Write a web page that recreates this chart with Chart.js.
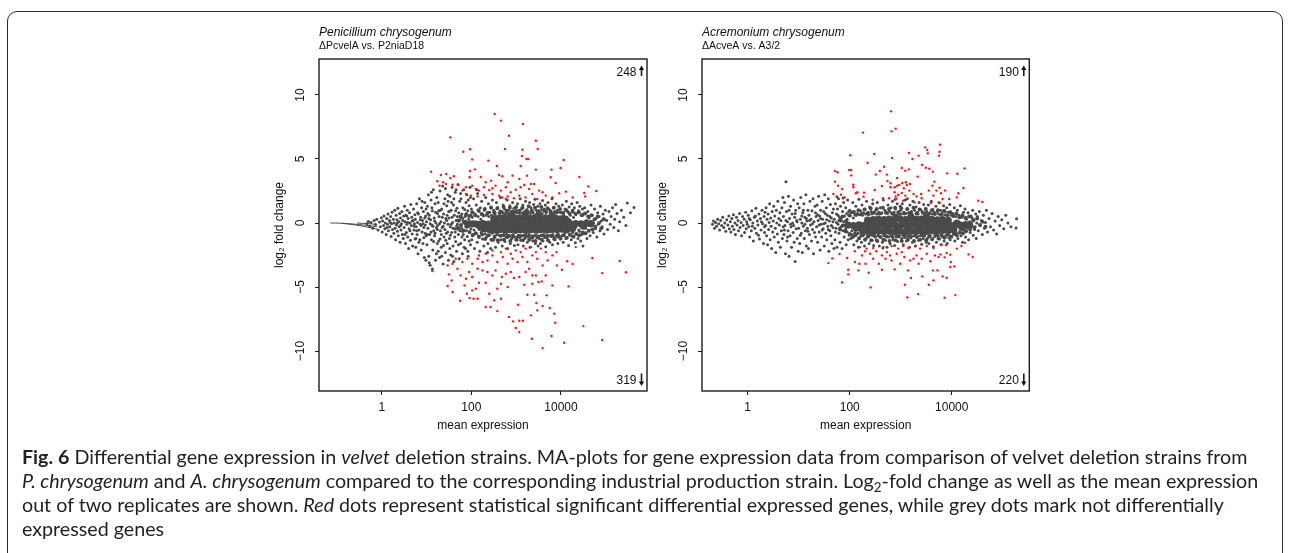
<!DOCTYPE html>
<html>
<head>
<meta charset="utf-8">
<script src="https://cdn.jsdelivr.net/npm/chart.js@4.4.1/dist/chart.umd.min.js"></script>
<style>
  html, body { margin: 0; padding: 0; background: #fff; }
  body { width: 1290px; height: 553px; position: relative; overflow: hidden; }
  #frame { position: absolute; left: 7px; top: 11px; width: 1274px; height: 620px;
           border: 1.5px solid #2b2b2b; border-radius: 10px; }
  canvas { position: absolute; top: 0; }
  #penCanvas { left: 260px; }
  #acrCanvas { left: 643px; }
  #caption { position: absolute; left: 22px; top: 445px; font-family: Lato, "Open Sans", sans-serif;
             font-size: 17px; line-height: 24px; color: #231f20; white-space: nowrap; }
  #caption sub { font-size: 0.68em; line-height: 0; vertical-align: -0.3em; }
</style>
</head>
<body>
<div id="frame"></div>
<canvas id="penCanvas" width="400" height="450"></canvas>
<canvas id="acrCanvas" width="400" height="450"></canvas>
<div id="caption">
<span id="capLine1"><b>Fig. 6</b> Differential gene expression in <i>velvet</i> deletion strains. MA-plots for gene expression data from comparison of velvet deletion strains from</span><br>
<span><i>P. chrysogenum</i> and <i>A. chrysogenum</i> compared to the corresponding industrial production strain. Log<sub>2</sub>-fold change as well as the mean expression</span><br>
<span>out of two replicates are shown. <i>Red</i> dots represent statistical significant differential expressed genes, while grey dots mark not differentially</span><br>
<span>expressed genes</span>
</div>
<script>
// points are [log10 mean expression, log2 fold change]
const xTicks = [1, 100, 10000];
const yTicks = [-10, -5, 0, 5, 10];
const penCounts = [248, 319];
const acrCounts = [190, 220];

// ---- Penicillium chrysogenum ----
const penUp = [[2.52,8.52],[2.66,8.0],[3.15,7.73],[1.53,6.69],[2.84,6.82],[3.44,6.43],[1.82,5.57],[1.97,5.76],[2.75,5.78],[3.14,5.73],[3.48,5.78],[2.02,4.97],[2.38,4.87],[3.13,5.23],[3.23,5.0],[3.27,5.0],[4.06,4.92],[2.57,4.45],[3.1,4.45],[3.44,4.17],[3.79,4.17],[3.99,4.3],[1.1,4.01],[1.97,4.06],[2.08,4.19],[1.44,3.83],[1.32,3.75],[1.61,3.65],[1.53,3.52],[1.24,3.26],[1.37,3.18],[1.43,3.05],[1.58,2.99],[1.71,2.97],[1.29,2.92],[1.96,3.57],[2.21,3.59],[2.32,3.18],[2.44,3.31],[2.62,3.75],[2.69,3.65],[2.81,3.18],[2.92,3.7],[3.07,3.44],[3.24,3.7],[3.33,3.05],[3.77,3.57],[3.88,3.13],[4.41,3.59],[4.61,2.86],[4.79,2.5],[1.88,2.79],[2.02,2.92],[2.1,2.66],[2.17,2.53],[2.28,2.79],[2.4,2.58],[2.47,2.71],[2.54,2.92],[2.66,2.53],[2.77,2.79],[2.88,2.4],[2.99,2.6],[3.1,2.79],[3.18,2.97],[3.29,2.66],[3.4,3.05],[3.51,2.53],[3.59,2.4],[3.66,2.14],[3.96,2.32],[4.11,2.45],[4.26,2.0],[4.52,2.34],[4.54,2.08],[1.88,2.27],[1.99,2.14],[2.14,2.08],[2.28,2.19],[2.62,2.14],[2.69,2.0],[2.81,2.08],[2.95,1.93],[3.07,2.14],[3.21,2.0],[3.36,2.27],[3.47,1.88],[3.81,2.0],[1.8,2.53],[2.47,2.27],[2.77,1.88]];
const penDown = [[1.13,-3.75],[1.47,-3.31],[1.58,-3.18],[1.5,-4.01],[1.56,-4.48],[1.47,-4.92],[1.58,-5.39],[1.75,-6.07],[1.85,-4.87],[1.9,-5.52],[1.96,-5.86],[2.02,-5.26],[2.05,-5.91],[2.14,-5.91],[2.1,-5.13],[2.17,-4.66],[2.32,-4.66],[2.32,-6.56],[2.43,-6.56],[2.51,-6.04],[2.58,-6.88],[2.66,-5.91],[2.58,-5.13],[2.4,-5.52],[2.66,-4.74],[2.81,-5.0],[2.84,-7.34],[2.93,-7.68],[2.99,-8.2],[3.07,-8.52],[3.07,-7.63],[3.15,-7.63],[3.04,-6.38],[3.18,-4.82],[3.36,-4.74],[3.25,-5.6],[3.4,-5.6],[3.45,-6.25],[3.47,-6.82],[3.33,-7.21],[3.59,-6.48],[3.68,-5.65],[3.75,-6.64],[3.85,-7.08],[3.87,-7.79],[3.79,-8.83],[3.35,-9.04],[3.59,-9.77],[4.07,-9.35],[4.5,-8.05],[4.92,-9.14],[4.92,-3.91],[5.31,-2.97],[5.45,-3.85],[4.7,-2.73],[4.17,-4.95],[4.26,-3.2],[4.14,-2.99],[4.02,-3.65],[3.91,-3.31],[3.81,-4.87],[3.66,-4.09],[3.57,-4.56],[3.5,-4.61],[3.44,-4.09],[3.36,-4.09],[3.29,-3.57],[3.21,-3.83],[3.07,-4.22],[2.95,-4.3],[2.88,-3.83],[2.77,-3.96],[2.68,-4.22],[2.54,-3.7],[2.47,-4.09],[2.36,-3.83],[2.25,-3.7],[2.14,-3.57],[2.02,-4.22],[1.95,-3.83],[1.88,-4.35],[1.76,-4.09],[1.69,-3.57],[1.65,-2.79],[1.8,-3.05],[1.91,-2.79],[2.02,-3.18],[2.14,-2.79],[2.25,-3.05],[2.36,-2.92],[2.47,-2.53],[2.58,-3.05],[2.7,-2.66],[2.81,-3.18],[2.92,-2.79],[3.03,-3.05],[3.14,-2.66],[3.25,-3.05],[3.36,-2.53],[3.47,-2.79],[3.59,-3.31],[3.7,-2.92],[3.81,-2.53],[2.47,-2.14],[2.66,-2.27],[2.77,-2.0],[2.88,-2.4],[2.99,-2.14],[3.1,-2.27],[3.21,-2.0],[3.33,-1.88],[3.44,-2.27],[3.55,-2.0],[3.66,-2.27],[3.9,-2.27],[4.33,-1.88],[2.32,-2.4],[2.17,-2.53]];
const penGrey = [[-0.33,-0.05],[-0.3,0.12],[-0.27,-0.25],[-0.24,0.05],[-0.2,-0.4],[-0.17,0.2],[-0.14,-0.12],[-0.11,0.3],[-0.08,-0.55],[-0.05,0.08],[-0.03,-0.3],[-0.01,0.42],
[0.01,-0.7],[0.02,0.15],[0.04,-0.2],[0.05,0.55],[0.07,-0.45],[0.08,0.0],[0.1,-0.9],[0.11,0.35],[0.13,-0.1],[0.14,0.7],[0.15,-0.6],[0.17,0.2],[0.18,-0.3],[0.2,0.5],[0.21,-1.05],[0.22,-0.05],[0.23,0.85],[0.24,-0.5],[0.19,0.05],[0.12,-0.35],
[0.26,0.3],[0.27,-0.8],[0.28,0.0],[0.29,1.0],[0.3,-0.4],[0.31,-1.3],[0.32,0.6],[0.33,-0.15],[0.34,0.25],[0.35,-0.65],[0.36,1.15],[0.37,-1.0],[0.38,0.1],[0.39,-0.3],[0.4,0.75],[0.41,-1.5],[0.42,0.4],[0.43,-0.55],[0.44,-0.05],[0.45,0.9],[0.46,-0.9],[0.47,0.2],[0.48,-1.2],[0.49,0.55],[0.35,0.0],[0.42,-0.2],
[0.5,-0.35],[0.51,1.3],[0.52,0.1],[0.53,-1.6],[0.54,0.6],[0.55,-0.75],[0.56,-0.1],[0.57,1.0],[0.58,-1.1],[0.59,0.35],[0.6,-2.0],[0.61,-0.45],[0.62,0.8],[0.63,0.0],[0.64,-1.35],[0.65,1.45],[0.66,-0.2],[0.67,0.45],[0.68,-0.85],[0.69,-1.8],[0.7,0.2],[0.71,1.1],[0.72,-0.55],[0.73,-0.05],[0.74,0.65],[0.745,-1.25],[0.52,-0.9],[0.58,0.05],[0.63,-0.6],[0.68,0.15],[0.72,-0.25],[0.56,0.55],
[0.75,0.3],[0.76,-1.9],[0.77,-0.3],[0.78,1.5],[0.79,-0.9],[0.8,0.05],[0.81,-2.4],[0.82,0.7],[0.83,-0.55],[0.84,1.9],[0.85,-1.3],[0.86,-0.1],[0.87,0.45],[0.88,-2.1],[0.89,1.2],[0.9,-0.7],[0.91,0.2],[0.92,-1.6],[0.93,0.9],[0.94,-0.35],[0.95,-2.7],[0.96,1.6],[0.97,-0.15],[0.98,0.55],[0.99,-1.0],[0.985,-2.9],[0.78,-0.6],[0.8,0.8],[0.83,-1.5],[0.86,0.25],[0.88,-0.2],[0.9,1.7],[0.92,-0.05],[0.94,-1.15],[0.96,0.4],[0.97,-0.8],[0.99,1.1],[0.76,-1.2],
[1.0,0.1],[1.01,-1.7],[1.02,1.3],[1.03,-0.4],[1.04,2.2],[1.05,-2.6],[1.06,0.6],[1.07,-0.9],[1.08,-3.3],[1.09,0.25],[1.1,1.8],[1.11,-1.3],[1.12,-0.15],[1.13,0.95],[1.14,-2.1],[1.15,2.6],[1.16,-0.6],[1.17,0.4],[1.18,-1.0],[1.19,1.5],[1.2,-2.9],[1.21,0.0],[1.22,-0.35],[1.23,2.0],[1.24,-1.6],[1.245,0.75],[1.02,-0.9],[1.05,0.35],[1.08,-0.05],[1.1,-0.7],[1.12,1.2],[1.14,-0.25],[1.16,-1.45],[1.18,0.15],[1.2,0.85],[1.22,-2.4],[1.24,-0.5],[1.06,-3.1],[1.13,-3.6],[1.19,-0.8],[1.03,0.75],[1.11,2.4],
[1.25,-0.2],[1.26,1.6],[1.27,-1.4],[1.28,0.5],[1.29,-2.7],[1.3,2.5],[1.31,-0.6],[1.32,0.1],[1.33,-1.9],[1.34,1.1],[1.35,-0.35],[1.36,2.9],[1.37,-3.2],[1.38,0.7],[1.39,-1.1],[1.4,0.0],[1.41,1.9],[1.42,-2.3],[1.43,0.35],[1.44,-0.8],[1.45,1.35],[1.46,-1.6],[1.47,2.2],[1.48,-0.1],[1.49,-2.9],[1.495,0.9],[1.27,0.95],[1.29,-0.05],[1.31,1.0],[1.33,-0.9],[1.35,0.45],[1.37,-0.25],[1.39,1.5],[1.41,-0.5],[1.43,-1.35],[1.45,0.2],[1.47,-0.7],[1.26,-2.2],[1.34,-2.6],[1.42,2.7],[1.48,1.7],[1.3,-1.25],[1.38,-1.75],[1.46,0.6],
[1.5,0.4],[1.51,-1.2],[1.52,2.1],[1.53,-0.3],[1.54,-2.5],[1.55,1.0],[1.56,-0.75],[1.57,2.8],[1.58,0.05],[1.59,-1.8],[1.6,1.4],[1.61,-3.0],[1.62,0.6],[1.63,-0.45],[1.64,2.4],[1.65,-1.45],[1.66,0.2],[1.67,-2.2],[1.68,1.15],[1.69,-0.1],[1.7,3.0],[1.71,-0.9],[1.72,0.8],[1.73,-2.8],[1.74,1.7],[1.745,-0.6],[1.51,0.9],[1.53,-0.95],[1.55,-0.1],[1.57,0.45],[1.59,-0.4],[1.61,1.9],[1.63,-1.1],[1.65,0.95],[1.67,-0.25],[1.69,0.5],[1.71,-1.7],[1.73,0.15],[1.52,-2.0],[1.58,-2.6],[1.66,2.6],[1.72,-0.35],[1.56,1.6],[1.64,-0.7],
[1.75,0.25],[1.76,-1.6],[1.77,1.9],[1.78,-0.4],[1.79,0.7],[1.8,-2.4],[1.81,1.2],[1.82,-0.9],[1.83,2.6],[1.84,0.0],[1.85,-1.3],[1.86,0.5],[1.87,-2.0],[1.88,1.6],[1.89,-0.6],[1.9,2.2],[1.91,-1.05],[1.92,0.95],[1.93,-2.6],[1.94,0.3],[1.95,1.35],[1.96,-0.75],[1.97,2.8],[1.98,-1.7],[1.99,0.6],[1.77,-0.15],[1.79,-1.1],[1.81,0.35],[1.83,-0.55],[1.85,1.05],[1.87,0.15],[1.89,0.75],[1.91,-0.3],[1.93,1.8],[1.95,-1.4],[1.97,0.1],[1.99,-0.45],[1.76,2.3],[1.84,-1.9],[1.92,-2.2],[1.98,2.0],[1.8,-0.65],
[2.0,1.1],[2.01,-1.3],[2.03,0.8],[2.04,-0.9],[2.05,1.9],[2.07,-2.0],[2.08,0.7],[2.1,-0.8],[2.11,1.4],[2.13,-1.5],[2.14,2.3],[2.16,-1.0],[2.17,0.9],[2.19,-2.2],[2.2,1.2],[2.22,-0.75],[2.23,1.7],[2.25,-1.25],[2.26,0.65],[2.28,-1.8],[2.29,1.0],[2.31,-0.85],[2.32,2.0],[2.34,-1.1],[2.35,0.75],[2.37,-1.6],[2.38,1.5],[2.4,-0.95],[2.41,0.85],[2.43,-2.0],[2.44,1.25],[2.46,-0.8],[2.47,1.8],[2.49,-1.35],[2.02,0.45],[2.06,-0.55],[2.09,0.1],[2.12,-0.3],[2.15,0.5],[2.18,-0.5],[2.21,0.3],[2.24,-0.6],[2.27,0.55],[2.3,-0.45],[2.33,0.6],[2.36,-0.6],[2.39,0.5],[2.42,-0.7],[2.45,0.6],[2.48,-0.55],[2.12,2.6],[2.36,-2.3],
[2.5,1.0],[2.51,-1.2],[2.53,0.75],[2.54,-1.9],[2.56,1.6],[2.57,-0.85],[2.59,1.2],[2.6,-1.5],[2.62,0.8],[2.63,-1.0],[2.65,2.0],[2.66,-1.3],[2.68,0.9],[2.69,-1.8],[2.71,1.4],[2.72,-0.9],[2.74,1.1],[2.75,-1.45],[2.77,0.85],[2.78,-1.1],[2.8,1.8],[2.81,-2.0],[2.83,1.0],[2.84,-0.95],[2.86,1.35],[2.87,-1.6],[2.89,0.9],[2.9,-1.2],[2.92,1.6],[2.93,-0.9],[2.95,1.15],[2.96,-1.75],[2.98,0.85],[2.99,-1.3],[2.52,0.65],[2.58,-0.9],[2.61,-0.7],[2.64,0.75],[2.67,-0.95],[2.7,0.8],[2.73,-1.0],[2.76,0.7],[2.79,-0.9],[2.82,0.75],[2.85,-1.05],[2.88,0.8],[2.91,-0.95],[2.94,0.7],
[3.0,1.0],[3.01,-1.1],[3.03,1.5],[3.04,-1.7],[3.06,0.9],[3.07,-0.95],[3.09,1.9],[3.1,-1.35],[3.12,1.1],[3.13,-1.0],[3.15,1.4],[3.16,-1.8],[3.18,0.85],[3.19,-1.2],[3.21,1.7],[3.22,-0.95],[3.24,1.05],[3.25,-1.5],[3.27,0.9],[3.28,-1.05],[3.3,1.6],[3.31,-1.9],[3.33,1.2],[3.34,-1.1],[3.36,0.9],[3.37,-1.4],[3.39,1.45],[3.4,-1.0],[3.42,1.85],[3.43,-1.6],[3.45,1.0],[3.46,-1.15],[3.48,1.3],[3.49,-1.8],[3.02,0.8],[3.05,-0.95],[3.08,0.75],[3.11,-1.0],[3.14,0.8],[3.17,-0.95],[3.2,0.75],[3.23,-1.05],[3.26,0.8],[3.29,-0.9],[3.32,0.75],[3.35,-1.0],[3.38,0.8],[3.44,-0.95],
[3.5,0.95],[3.51,-1.2],[3.53,1.5],[3.54,-1.6],[3.56,1.0],[3.57,-1.0],[3.59,1.75],[3.6,-1.4],[3.62,1.1],[3.63,-0.95],[3.65,1.4],[3.66,-1.85],[3.68,0.9],[3.69,-1.15],[3.71,1.6],[3.72,-1.0],[3.74,1.05],[3.75,-1.5],[3.77,0.85],[3.78,-1.05],[3.8,1.9],[3.81,-1.7],[3.83,1.2],[3.84,-1.1],[3.86,0.9],[3.87,-1.3],[3.89,1.5],[3.9,-0.95],[3.92,1.0],[3.93,-1.6],[3.95,1.3],[3.96,-1.0],[3.98,0.85],[3.99,-1.25],[3.52,0.8],[3.55,-0.95],[3.58,0.75],[3.61,-0.9],[3.67,0.8],[3.7,-0.95],[3.76,0.75],[3.82,-0.9],[3.88,0.8],[3.94,-0.85],
[4.0,0.8],[4.02,-1.0],[4.03,1.4],[4.05,-1.5],[4.06,0.65],[4.08,-0.8],[4.09,1.1],[4.11,-1.2],[4.12,1.7],[4.14,-0.7],[4.15,0.9],[4.17,-1.75],[4.18,1.25],[4.2,-0.95],[4.21,0.6],[4.23,-1.3],[4.24,1.5],[4.26,-0.75],[4.27,0.85],[4.29,-1.1],[4.3,1.2],[4.32,-1.55],[4.33,0.7],[4.35,-0.85],[4.36,1.6],[4.38,-1.2],[4.39,0.95],[4.41,-0.65],[4.42,1.3],[4.44,-1.4],[4.45,0.6],[4.47,-0.9],[4.48,1.1],[4.49,-1.8],[4.04,0.5],[4.16,-0.6],[4.28,0.45],[4.4,-0.55],
[4.5,0.7],[4.52,-0.8],[4.53,1.2],[4.55,-0.4],[4.57,0.2],[4.58,-1.2],[4.6,0.9],[4.62,-0.6],[4.63,0.4],[4.65,-1.0],[4.67,1.4],[4.68,-0.2],[4.7,0.6],[4.72,-0.75],[4.73,0.0],[4.75,1.1],[4.77,-0.45],[4.78,0.35],[4.8,-1.1],[4.82,0.8],[4.83,-0.1],[4.85,0.5],[4.87,-0.6],[4.88,1.3],[4.9,0.15],[4.92,-0.3],[4.94,0.7],[4.96,-0.85],[4.97,0.3],[4.99,1.0],
[5.02,0.2],[5.04,-0.5],[5.07,0.9],[5.1,-0.1],[5.12,0.5],[5.15,1.2],[5.18,-0.35],[5.2,0.3],[5.22,1.45],[5.25,0.75],[5.28,-0.6],[5.31,0.1],[5.35,1.0],[5.4,0.45],[5.45,-0.2],[5.48,1.56],[5.55,0.8],[5.63,1.22]];
// the crowded band just around the dark body
const penMid = [[1.7,0.2],[1.7,-0.45],[1.76,0.5],[1.77,-0.15],[1.82,-0.6],[1.83,0.1],[1.88,0.65],[1.89,-0.3],
[1.95,0.55],[1.96,-0.7],[2.02,0.85],[2.03,-0.95],[2.09,0.6],[2.1,-0.8],[2.16,1.0],[2.17,-1.1],
[2.23,0.7],[2.24,-0.9],[2.3,1.1],[2.31,-1.25],[2.37,0.8],[2.38,-0.95],[2.44,1.2],[2.45,-1.3],
[2.51,0.85],[2.52,-1.05],[2.58,1.15],[2.59,-1.35],[2.65,0.9],[2.66,-1.0],[2.72,1.25],[2.73,-1.3],
[2.79,0.95],[2.8,-1.1],[2.86,1.2],[2.87,-1.4],[2.93,0.9],[2.94,-1.05],[3.0,1.25],[3.01,-1.3],
[3.07,0.95],[3.08,-1.1],[3.14,1.2],[3.15,-1.35],[3.21,0.9],[3.22,-1.05],[3.28,1.3],[3.29,-1.3],
[3.35,0.95],[3.36,-1.15],[3.42,1.2],[3.43,-1.4],[3.49,0.9],[3.5,-1.05],[3.56,1.25],[3.57,-1.3],
[3.63,0.95],[3.64,-1.1],[3.7,1.15],[3.71,-1.35],[3.77,0.9],[3.78,-1.0],[3.84,1.2],[3.85,-1.25],
[3.91,0.85],[3.92,-1.05],[3.98,1.1],[3.99,-1.2],[4.05,0.8],[4.06,-0.95],[4.12,1.0],[4.13,-1.15],
[4.19,0.75],[4.2,-0.9],[4.26,0.95],[4.27,-1.05],[4.33,0.7],[4.34,-0.85],[4.4,0.85],[4.41,-0.95],
[4.47,0.6],[4.48,-0.75],[4.54,0.75],[4.55,-0.8],[4.61,0.5],[4.62,-0.6],[4.68,0.6],[4.7,-0.5],
[4.75,0.3],[4.77,-0.3],[4.82,0.5],[4.85,0.0],[4.9,-0.4],[4.95,0.3]];
// the solid dark body of the cloud
const penCore = [[2.5,0.3],[2.61,0.38],[2.73,0.42],[2.84,0.36],[2.96,0.41],[3.07,0.39],[3.19,0.43],[3.3,0.37],[3.42,0.42],[3.53,0.38],[3.65,0.41],[3.76,0.36],[3.88,0.39],[3.99,0.33],[4.1,0.3],
[1.92,-0.1],[2.03,-0.06],[2.15,-0.1],[2.26,-0.05],[2.38,-0.09],[2.49,-0.07],[2.61,-0.11],[2.72,-0.06],[2.84,-0.09],[2.95,-0.05],[3.07,-0.1],[3.18,-0.07],[3.3,-0.09],[3.41,-0.05],[3.53,-0.1],[3.64,-0.06],[3.76,-0.09],[3.87,-0.05],[3.99,-0.08],[4.1,-0.06],[4.22,-0.09],[4.33,-0.04],[4.45,-0.07],[4.57,-0.03],[4.67,-0.05],
[2.3,-0.45],[2.41,-0.5],[2.53,-0.54],[2.64,-0.5],[2.76,-0.56],[2.87,-0.52],[2.99,-0.57],[3.1,-0.53],[3.22,-0.58],[3.33,-0.52],[3.45,-0.56],[3.56,-0.51],[3.68,-0.55],[3.79,-0.5],[3.91,-0.53],[4.02,-0.48],[4.14,-0.47],[4.26,-0.42],
[2.56,0.15],[2.79,0.16],[3.01,0.14],[3.24,0.17],[3.47,0.15],[3.7,0.16],[3.93,0.14],[4.16,0.12],
[2.2,-0.3],[2.44,-0.32],[2.67,-0.3],[2.9,-0.33],[3.13,-0.31],[3.36,-0.32],[3.59,-0.3],[3.82,-0.32],[4.05,-0.29],[4.28,-0.27],[4.5,-0.25],
[2.9,0.6],[3.2,0.64],[3.5,0.62],[3.8,0.58]];
// low-count genes form thin streaks at the left end
const penTrail = [
  [[-1.15,0.0],[-0.95,-0.01],[-0.75,-0.05],[-0.5,-0.12],[-0.3,-0.2],[-0.1,-0.3]],
  [[-0.9,-0.02],[-0.7,-0.1],[-0.5,-0.2],[-0.3,-0.33],[-0.1,-0.48]],
  [[-0.55,0.0],[-0.3,-0.05],[-0.1,-0.12]]
];

// ---- Acremonium chrysogenum ----
const acrUp = [[2.81,8.72],[2.82,7.16],[2.9,7.37],[2.26,7.06],[2.01,5.29],[2.48,5.39],[2.35,4.71],[2.83,5.08],[3.16,5.47],[3.23,5.0],[3.35,5.26],[3.48,5.91],[3.52,5.7],[3.53,5.44],[3.77,6.12],[3.76,5.57],[3.75,5.26],[3.42,4.53],[3.49,4.32],[3.56,4.24],[3.63,4.01],[3.91,3.88],[4.25,4.27],[4.11,3.85],[2.67,4.4],[2.59,4.06],[3.02,4.3],[3.16,4.19],[3.09,4.09],[1.71,4.06],[1.76,3.96],[1.99,4.14],[2.03,4.14],[2.03,3.72],[2.51,3.78],[2.73,3.78],[3.33,3.62],[2.93,3.52],[1.71,3.23],[1.77,2.92],[1.85,2.66],[1.68,2.27],[1.83,2.21],[1.9,2.0],[2.07,2.99],[2.07,2.79],[2.15,2.4],[2.12,2.32],[2.28,2.37],[2.27,2.06],[2.49,2.58],[2.45,1.82],[2.63,2.89],[2.65,1.93],[2.74,3.28],[2.8,3.1],[2.8,2.79],[2.88,2.79],[2.93,2.92],[2.97,2.97],[3.03,3.13],[3.06,2.71],[3.12,2.97],[3.18,3.05],[2.88,2.4],[2.95,2.21],[3.02,2.34],[3.09,2.14],[3.17,2.53],[3.25,2.27],[3.31,2.08],[3.4,2.27],[3.55,2.53],[3.62,2.92],[3.66,3.23],[3.7,2.53],[3.76,2.76],[3.79,2.32],[3.64,2.14],[3.87,2.53],[4.23,2.73],[4.13,2.32],[4.1,2.0],[3.95,1.88],[3.82,1.88],[3.76,1.56],[3.59,1.56],[3.41,1.93],[3.27,1.61],[3.05,1.74],[2.91,1.88],[2.77,1.93],[4.52,1.74],[4.6,1.64],[3.1,3.18],[2.9,2.08]];
const acrDown = [[1.58,-3.13],[1.66,-2.76],[1.8,-2.42],[1.95,-2.73],[1.97,-3.65],[1.97,-4.01],[1.85,-4.64],[2.41,-5.03],[2.1,-3.05],[2.17,-3.7],[2.19,-3.18],[2.24,-2.53],[2.31,-3.18],[2.37,-3.88],[2.46,-2.79],[2.57,-3.18],[2.63,-3.65],[2.7,-2.79],[2.79,-2.53],[2.82,-2.92],[2.88,-3.62],[2.99,-3.18],[3.07,-2.66],[3.08,-4.82],[3.13,-5.81],[3.14,-3.7],[3.2,-4.3],[3.25,-2.79],[3.34,-5.55],[3.42,-4.17],[3.55,-4.82],[3.63,-3.7],[3.64,-4.48],[3.72,-3.7],[3.82,-4.17],[3.9,-4.27],[3.86,-5.83],[4.07,-5.63],[4.05,-3.39],[3.98,-3.05],[3.86,-2.68],[3.9,-2.34],[3.97,-2.47],[3.78,-2.45],[3.67,-2.53],[3.51,-2.4],[3.41,-2.79],[3.31,-2.53],[3.18,-2.92],[3.02,-2.27],[2.92,-2.4],[2.73,-2.27],[2.63,-2.53],[2.52,-2.21],[2.4,-2.4],[2.3,-2.21],[2.1,-2.21],[2.2,-1.88],[2.33,-2.0],[2.46,-1.95],[2.66,-1.88],[2.82,-1.8],[2.95,-2.0],[3.05,-1.8],[3.15,-1.95],[3.28,-1.8],[3.38,-2.0],[3.51,-1.8],[3.64,-1.95],[3.8,-1.69],[3.89,-1.74],[4.1,-2.0],[4.19,-1.8],[4.26,-1.54],[4.33,-2.45],[4.41,-2.66],[3.97,-3.44],[3.74,-2.66],[3.58,-2.99],[3.35,-3.18]];
const acrGrey = [[-0.69,-0.1],[-0.67,0.15],[-0.65,-0.4],[-0.63,0.05],[-0.61,-0.25],[-0.59,0.3],[-0.57,-0.05],[-0.55,-0.55],[-0.53,0.2],[-0.51,-0.2],[-0.49,0.45],[-0.47,-0.35],[-0.45,0.0],[-0.43,-0.65],[-0.41,0.25],[-0.39,-0.15],[-0.37,0.55],[-0.36,-0.45],
[-0.34,0.1],[-0.33,-0.7],[-0.31,0.35],[-0.3,-0.25],[-0.28,0.65],[-0.27,-0.5],[-0.25,0.0],[-0.24,-0.9],[-0.22,0.45],[-0.21,-0.15],[-0.19,0.2],[-0.18,-0.6],[-0.16,0.75],[-0.15,-0.35],[-0.13,0.05],[-0.12,-1.0],[-0.1,0.5],[-0.09,-0.2],[-0.07,0.3],[-0.06,-0.75],[-0.04,0.85],[-0.03,-0.45],[-0.02,0.1],[-0.01,-0.1],
[0.01,0.6],[0.02,-0.3],[0.04,-1.1],[0.05,0.25],[0.07,-0.6],[0.08,0.95],[0.1,0.0],[0.11,-1.4],[0.13,0.45],[0.14,-0.4],[0.16,1.15],[0.17,-0.8],[0.19,0.15],[0.2,-0.15],[0.22,0.7],[0.23,-1.25],[0.25,0.35],[0.26,-0.55],[0.28,1.0],[0.29,-0.05],[0.31,-1.6],[0.32,0.5],[0.33,-0.3],[0.34,0.85],[0.03,0.35],[0.09,-0.25],[0.15,0.55],[0.21,-0.95],[0.27,0.1],[0.33,-0.75],
[0.35,-0.2],[0.36,1.2],[0.37,-1.0],[0.38,0.3],[0.39,-1.7],[0.4,0.7],[0.41,-0.5],[0.42,0.05],[0.43,1.5],[0.44,-1.3],[0.45,0.4],[0.46,-0.25],[0.47,-2.0],[0.48,0.9],[0.49,-0.7],[0.5,0.15],[0.51,1.3],[0.52,-1.1],[0.53,0.55],[0.54,-0.4],[0.55,-2.3],[0.56,1.0],[0.57,0.0],[0.58,-0.85],[0.59,1.7],[0.6,-1.5],[0.61,0.35],[0.62,-0.15],[0.63,0.8],[0.64,-1.9],[0.65,0.2],[0.66,-0.6],[0.67,1.2],[0.68,-1.2],[0.69,2.0],[0.695,-0.3],
[0.7,0.5],[0.71,-0.9],[0.72,1.6],[0.73,-0.2],[0.74,-2.4],[0.75,3.23],[0.76,0.9],[0.77,-1.4],[0.78,0.1],[0.79,-0.6],[0.8,2.1],[0.81,-2.6],[0.82,0.35],[0.83,-1.0],[0.84,1.3],[0.85,-0.3],[0.86,-1.9],[0.87,0.7],[0.88,0.0],[0.89,-0.75],[0.9,1.8],[0.91,-1.5],[0.92,0.45],[0.93,-3.0],[0.94,1.0],[0.95,-0.45],[0.96,0.2],[0.97,-1.2],[0.98,1.5],[0.99,-2.2],[0.72,-0.55],[0.75,0.2],[0.78,-1.1],[0.81,1.0],[0.84,-0.1],[0.9,-0.2],[0.93,0.75],[0.97,0.1],
[1.0,-0.4],[1.01,1.2],[1.02,-1.6],[1.03,0.3],[1.04,2.0],[1.05,-0.8],[1.06,0.0],[1.07,-2.3],[1.08,0.8],[1.09,-0.25],[1.1,1.5],[1.11,-1.2],[1.12,0.45],[1.13,-0.6],[1.14,2.2],[1.15,-1.8],[1.16,0.15],[1.17,-0.4],[1.18,1.0],[1.19,-2.0],[1.2,0.6],[1.21,-0.9],[1.22,1.7],[1.23,-0.15],[1.24,0.3],[1.25,-1.4],[1.26,0.95],[1.27,-0.5],[1.28,1.9],[1.29,-2.4],[1.3,0.1],[1.31,-0.75],[1.32,1.3],[1.33,-1.1],[1.34,0.5],[1.03,-0.95],[1.06,0.55],[1.09,1.0],[1.12,-0.1],[1.15,0.35],[1.18,-0.65],[1.21,0.2],[1.27,-0.05],[1.33,0.8],
[1.35,-0.3],[1.36,1.4],[1.37,-1.5],[1.38,0.2],[1.39,2.1],[1.4,-0.7],[1.41,0.55],[1.42,-2.1],[1.43,1.0],[1.44,-0.1],[1.45,-1.1],[1.46,1.7],[1.47,0.3],[1.48,-0.45],[1.49,0.9],[1.5,-1.8],[1.51,2.2],[1.52,0.0],[1.53,-0.8],[1.54,1.2],[1.55,-1.3],[1.56,0.6],[1.57,-0.25],[1.58,1.9],[1.59,-2.2],[1.6,0.15],[1.61,-0.6],[1.62,1.45],[1.63,-1.0],[1.64,0.4],[1.65,-1.6],[1.66,0.8],[1.67,-0.35],[1.68,1.1],[1.69,-2.0],[1.37,0.65],[1.4,-0.15],[1.43,0.35],[1.46,-0.55],[1.49,-0.05],[1.52,0.75],[1.55,0.25],[1.58,-0.5],[1.61,0.5],[1.64,-0.2],[1.67,0.1],
[1.7,0.3],[1.71,-1.3],[1.72,1.5],[1.73,-0.4],[1.74,0.7],[1.75,-1.9],[1.76,1.1],[1.77,-0.1],[1.78,1.9],[1.79,-0.8],[1.8,0.45],[1.81,-1.5],[1.82,1.3],[1.83,-0.3],[1.84,0.15],[1.85,-2.0],[1.86,0.9],[1.87,-0.6],[1.88,1.6],[1.89,-1.1],[1.9,0.55],[1.91,-0.2],[1.92,1.2],[1.93,-1.7],[1.94,0.75],[1.95,-0.7],[1.96,1.8],[1.97,-1.3],[1.98,0.9],[1.99,-0.95],[1.72,-0.7],[1.74,0.05],[1.77,0.6],[1.8,-0.4],[1.83,0.35],[1.86,-0.15],[1.89,0.1],[1.92,-0.45],[1.95,0.3],[1.98,-0.3],[1.75,2.05],[1.87,1.95],
[2.0,1.0],[2.02,-1.2],[2.03,0.8],[2.05,-0.9],[2.06,1.6],[2.08,-1.7],[2.09,0.9],[2.11,-1.0],[2.12,1.3],[2.14,-1.4],[2.15,0.75],[2.17,-1.9],[2.18,1.85],[2.2,-1.1],[2.21,0.95],[2.23,-1.5],[2.24,1.4],[2.26,-1.0],[2.27,0.8],[2.29,-1.8],[2.3,1.1],[2.32,-1.2],[2.33,1.7],[2.35,-1.05],[2.36,0.85],[2.38,-1.6],[2.39,1.25],[2.41,-0.95],[2.42,0.9],[2.44,-1.35],[2.45,1.5],[2.47,-1.75],[2.48,0.8],[2.5,-1.1],[2.01,0.55],[2.04,-0.6],[2.07,0.4],[2.1,-0.75],[2.13,0.6],[2.16,-0.8],[2.19,0.65],[2.22,-0.85],[2.25,0.6],[2.28,-0.9],[2.31,0.7],[2.34,-0.85],[2.37,0.65],[2.4,-0.9],[2.43,0.7],[2.46,-0.95],
[2.51,1.0],[2.52,-1.3],[2.54,1.6],[2.55,-1.0],[2.57,0.85],[2.58,-1.8],[2.6,1.2],[2.61,-1.1],[2.63,0.8],[2.64,-1.5],[2.66,1.8],[2.67,-1.0],[2.69,1.0],[2.7,-1.35],[2.72,0.85],[2.73,-1.9],[2.75,1.4],[2.76,-1.1],[2.78,0.9],[2.79,-1.6],[2.81,1.2],[2.82,-1.0],[2.84,1.7],[2.85,-1.3],[2.87,0.85],[2.88,-1.75],[2.9,1.1],[2.91,-1.05],[2.93,1.5],[2.94,-1.45],[2.96,0.9],[2.97,-1.0],[2.99,1.3],[2.53,0.7],[2.56,-0.95],[2.62,0.75],[2.68,-0.95],[2.74,0.75],[2.8,-1.0],[2.86,0.75],[2.92,-0.95],[2.98,0.7],[2.65,-1.95],[2.89,1.85],
[3.0,1.0],[3.02,-1.2],[3.03,1.5],[3.05,-1.7],[3.06,0.85],[3.08,-1.0],[3.09,1.8],[3.11,-1.4],[3.12,1.1],[3.14,-1.05],[3.15,0.8],[3.17,-1.9],[3.18,1.4],[3.2,-1.15],[3.21,0.9],[3.23,-1.5],[3.24,1.7],[3.26,-1.0],[3.27,1.0],[3.29,-1.8],[3.3,1.25],[3.32,-1.1],[3.33,0.85],[3.35,-1.35],[3.36,1.6],[3.38,-1.0],[3.39,1.05],[3.41,-1.65],[3.42,0.9],[3.44,-1.2],[3.45,1.45],[3.47,-1.0],[3.48,0.8],[3.5,-1.5],[3.01,0.7],[3.04,-0.95],[3.1,0.75],[3.16,-0.95],[3.22,0.7],[3.28,-1.0],[3.34,0.7],[3.4,-0.95],[3.46,0.75],[3.13,1.9],
[3.51,0.9],[3.52,-1.2],[3.54,1.4],[3.55,-1.6],[3.57,0.8],[3.58,-1.0],[3.6,1.7],[3.61,-1.3],[3.63,1.05],[3.64,-1.85],[3.66,0.85],[3.67,-1.05],[3.69,1.3],[3.7,-1.5],[3.72,0.9],[3.73,-1.0],[3.75,1.6],[3.76,-1.25],[3.78,1.0],[3.79,-1.7],[3.81,0.8],[3.82,-1.1],[3.84,1.35],[3.85,-1.4],[3.87,0.9],[3.88,-1.0],[3.9,1.2],[3.91,-1.6],[3.93,0.85],[3.94,-1.15],[3.96,1.45],[3.97,-1.3],[3.99,0.8],[3.53,0.7],[3.56,-0.95],[3.62,0.7],[3.68,-0.95],[3.74,0.7],[3.8,-0.95],[3.86,0.65],[3.92,-0.9],[3.98,0.6],
[4.0,-1.1],[4.02,0.75],[4.03,-0.6],[4.05,1.2],[4.06,-1.4],[4.08,0.5],[4.09,-0.8],[4.11,1.0],[4.12,-1.2],[4.14,0.6],[4.15,-0.7],[4.17,1.35],[4.18,-1.0],[4.2,0.45],[4.21,-1.5],[4.23,0.85],[4.24,-0.55],[4.26,1.1],[4.27,-1.1],[4.29,0.3],[4.3,-0.4],[4.32,0.8],[4.33,-1.3],[4.35,0.1],[4.36,-0.75],[4.38,0.55],[4.39,-0.2],[4.41,1.0],[4.42,-0.95],[4.44,0.25],[4.45,-0.5],[4.47,0.7],[4.48,-1.2],[4.49,0.0],[4.4,0.4],[4.46,-0.3],
[4.5,0.5],[4.52,-0.6],[4.54,0.9],[4.56,-0.2],[4.58,0.2],[4.6,-0.9],[4.62,0.6],[4.64,-0.4],[4.66,0.05],[4.68,1.0],[4.7,-0.7],[4.73,0.35],[4.76,-0.3],[4.79,0.75],[4.82,-0.55],[4.85,0.15],[4.88,-0.85],[4.91,0.5],[4.94,-0.2],[4.98,0.25],[5.02,-0.45],[5.06,0.6],[5.1,0.0],[5.16,-0.3],[5.26,-0.39],[5.27,0.33]];
const acrMid = [[1.8,0.2],[1.81,-0.5],[1.86,0.5],[1.87,-0.2],[1.92,-0.65],[1.93,0.15],
[1.99,0.6],[2.0,-0.85],[2.05,0.85],[2.06,-1.1],[2.11,0.65],[2.12,-0.9],[2.17,1.0],[2.18,-1.2],
[2.23,0.7],[2.24,-0.95],[2.29,1.05],[2.3,-1.3],[2.35,0.75],[2.36,-1.05],[2.41,1.15],[2.42,-1.35],
[2.47,0.8],[2.48,-1.0],[2.53,1.1],[2.54,-1.4],[2.59,0.75],[2.6,-1.1],[2.65,1.2],[2.66,-1.3],
[2.71,0.8],[2.72,-1.05],[2.77,1.1],[2.78,-1.4],[2.83,0.75],[2.84,-1.1],[2.89,1.2],[2.9,-1.35],
[2.95,0.8],[2.96,-1.05],[3.01,1.15],[3.02,-1.4],[3.07,0.75],[3.08,-1.1],[3.13,1.1],[3.14,-1.3],
[3.19,0.8],[3.2,-1.05],[3.25,1.2],[3.26,-1.4],[3.31,0.75],[3.32,-1.1],[3.37,1.05],[3.38,-1.3],
[3.43,0.8],[3.44,-1.0],[3.49,1.1],[3.5,-1.35],[3.55,0.7],[3.56,-1.05],[3.61,1.0],[3.62,-1.25],
[3.67,0.7],[3.68,-0.95],[3.73,1.0],[3.74,-1.2],[3.79,0.65],[3.8,-0.95],[3.85,0.95],[3.86,-1.15],
[3.91,0.6],[3.92,-0.9],[3.97,0.85],[3.98,-1.05],[4.03,0.55],[4.04,-0.85],[4.09,0.75],[4.1,-0.95],
[4.15,0.45],[4.16,-0.75],[4.21,0.6],[4.22,-0.8],[4.27,0.4],[4.28,-0.65],[4.34,0.5],[4.36,-0.5],
[4.42,0.2],[4.44,-0.35],[4.5,0.35],[4.55,-0.15],[4.6,0.1],[4.66,-0.3]];
const acrCore = [[2.35,0.22],[2.46,0.27],[2.56,0.3],[2.67,0.26],[2.77,0.31],[2.88,0.28],[2.98,0.32],[3.09,0.27],[3.19,0.31],[3.3,0.28],[3.4,0.3],[3.51,0.26],[3.61,0.29],[3.72,0.25],[3.82,0.27],[3.93,0.2],
[1.97,-0.16],[2.07,-0.2],[2.18,-0.15],[2.28,-0.19],[2.39,-0.14],[2.49,-0.2],[2.6,-0.16],[2.7,-0.19],[2.81,-0.14],[2.91,-0.2],[3.02,-0.16],[3.12,-0.19],[3.23,-0.15],[3.33,-0.2],[3.44,-0.16],[3.54,-0.18],[3.65,-0.14],[3.75,-0.19],[3.86,-0.15],[3.96,-0.17],[4.07,-0.13],[4.17,-0.16],[4.27,-0.12],[4.35,-0.14],
[2.25,-0.58],[2.36,-0.62],[2.46,-0.66],[2.57,-0.62],[2.67,-0.67],[2.78,-0.63],[2.88,-0.68],[2.99,-0.64],[3.09,-0.69],[3.2,-0.63],[3.3,-0.67],[3.41,-0.62],[3.51,-0.66],[3.62,-0.61],[3.72,-0.64],[3.83,-0.58],[3.94,-0.56],[4.04,-0.52],
[2.4,0.05],[2.62,0.06],[2.83,0.04],[3.04,0.07],[3.25,0.05],[3.46,0.06],[3.67,0.04],[3.88,0.02],[4.1,0.0],
[2.13,-0.4],[2.33,-0.42],[2.54,-0.4],[2.75,-0.43],[2.96,-0.41],[3.17,-0.43],[3.38,-0.4],[3.59,-0.42],[3.8,-0.4],[4.0,-0.38],[4.2,-0.35],
[2.9,0.45],[3.2,0.48],[3.5,0.45]];

const GREY = '#4a4a4a';
const RED = '#ff1414';
const FONT = '"Liberation Sans", Arial, Helvetica, sans-serif';
Chart.defaults.font.family = FONT;
Chart.defaults.color = '#111';

function pts(list) {
  return list.map(p => ({ x: Math.pow(10, p[0]), y: p[1] }));
}

function fmtY(v) {
  return v < 0 ? '\u2212' + Math.abs(v) : String(v);
}

function drawArrow(ctx, x, y1, y2, up) {
  // shaft plus a small filled head, like the R arrows
  const tip = up ? y1 : y2;
  const dir = up ? 1 : -1;
  ctx.beginPath();
  ctx.moveTo(x, up ? y1 + 3 : y1);
  ctx.lineTo(x, up ? y2 : y2 - 3);
  ctx.lineWidth = 1.6;
  ctx.stroke();
  ctx.beginPath();
  ctx.moveTo(x, tip);
  ctx.lineTo(x - 2.6, tip + dir * 4.5);
  ctx.lineTo(x + 2.6, tip + dir * 4.5);
  ctx.closePath();
  ctx.fill();
}

// plot frame and the up/down counts in the corners
const maFrame = {
  id: 'maFrame',
  afterDraw(chart, args, opts) {
    const { ctx, chartArea: a } = chart;
    ctx.save();
    ctx.strokeStyle = '#1c1c1c';
    ctx.fillStyle = '#111';
    ctx.lineWidth = 1.4;
    ctx.strokeRect(a.left, a.top, a.right - a.left, a.bottom - a.top);
    ctx.font = '12px ' + FONT;
    ctx.textAlign = 'right';
    ctx.textBaseline = 'alphabetic';
    ctx.fillText(String(opts.counts[0]), a.right - 10.5, a.top + 16.5);
    ctx.fillText(String(opts.counts[1]), a.right - 10.5, a.bottom - 7.5);
    drawArrow(ctx, a.right - 5.5, a.top + 6.5, a.top + 17, true);
    drawArrow(ctx, a.right - 5.5, a.bottom - 17.5, a.bottom - 5, false);
    ctx.restore();
  }
};

function renderPanel(id, title, subtitle, xLog, padRight, sets, counts) {
  const datasets = [
    { data: pts(sets.red), backgroundColor: RED, pointRadius: 1.2 },
    { data: pts(sets.grey), backgroundColor: GREY, pointRadius: 1.5 },
    { data: pts(sets.mid), backgroundColor: GREY, pointRadius: 2.0 },
    { data: pts(sets.core), backgroundColor: GREY, pointRadius: 3.6 }
  ];
  (sets.trail || []).forEach(branch => datasets.push({
    data: pts(branch), showLine: true, borderColor: GREY, borderWidth: 1, pointRadius: 0, tension: 0.3
  }));
  datasets.forEach(ds => { ds.pointBorderWidth = 0; ds.pointHoverRadius = 0; });

  return new Chart(document.getElementById(id), {
    type: 'scatter',
    data: { datasets },
    plugins: [maFrame],
    options: {
      responsive: false,
      devicePixelRatio: 1,
      animation: false,
      events: [],
      layout: { padding: { top: 25.3, right: padRight, bottom: 15, left: 0 } },
      plugins: {
        legend: { display: false },
        tooltip: { enabled: false },
        title: {
          display: true, text: title, align: 'start', fullSize: false, color: '#111',
          font: { size: 12, style: 'italic', weight: 'normal' }, padding: { top: 0, bottom: 0 }
        },
        subtitle: {
          display: true, text: subtitle, align: 'start', fullSize: false, color: '#111',
          font: { size: 10.5, weight: 'normal' }, padding: { top: 0, bottom: 6.7 }
        },
        maFrame: { counts }
      },
      scales: {
        x: {
          type: 'logarithmic',
          min: Math.pow(10, xLog[0]),
          max: Math.pow(10, xLog[1]),
          afterBuildTicks: s => { s.ticks = xTicks.map(v => ({ value: v })); },
          afterFit: s => { s.height = 44; },
          ticks: { callback: v => String(v), font: { size: 12 }, color: '#111', padding: 5, autoSkip: false, maxRotation: 0 },
          grid: { drawOnChartArea: false, drawTicks: true, tickLength: 4, color: '#1c1c1c', lineWidth: 1 },
          border: { display: false },
          title: { display: true, text: 'mean expression', font: { size: 12 }, color: '#111', padding: { top: 0, bottom: 2.1 } }
        },
        y: {
          min: -13.12,
          max: 12.81,
          afterBuildTicks: s => { s.ticks = yTicks.map(v => ({ value: v })); },
          afterFit: s => { s.width = 59; },
          ticks: { callback: v => fmtY(v), font: { size: 12 }, color: '#111', padding: 4,
                   minRotation: 90, maxRotation: 90, crossAlign: 'center', autoSkip: false },
          grid: { drawOnChartArea: false, drawTicks: true, tickLength: 4, color: '#1c1c1c', lineWidth: 1 },
          border: { display: false },
          title: { display: true, text: 'log\u2082 fold change', font: { size: 12 }, color: '#111', padding: { top: 12.8, bottom: 0 } }
        }
      }
    }
  });
}

renderPanel('penCanvas', 'Penicillium chrysogenum', '\u0394PcvelA vs. P2niaD18', [-1.40, 5.92], 13,
  { red: penUp.concat(penDown), grey: penGrey, mid: penMid, core: penCore, trail: penTrail }, penCounts);
renderPanel('acrCanvas', 'Acremonium chrysogenum', '\u0394AcveA vs. A3/2', [-0.896, 5.52], 13.7,
  { red: acrUp.concat(acrDown), grey: acrGrey, mid: acrMid, core: acrCore }, acrCounts);

// fit the caption's first line to the width it has in the figure
const cap = document.getElementById('caption');
const w1 = document.getElementById('capLine1').getBoundingClientRect().width;
cap.style.fontSize = (17 * 1226 / w1).toFixed(2) + 'px';
</script>
</body>
</html>
